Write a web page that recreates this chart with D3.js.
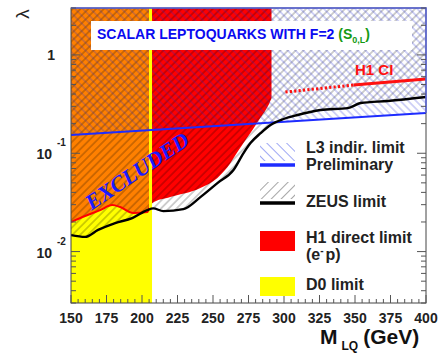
<!DOCTYPE html>
<html><head><meta charset="utf-8">
<script src="https://cdn.jsdelivr.net/npm/d3@7"></script>
<style>body{margin:0;background:#fff}svg{display:block}</style>
</head><body>
<script>
// Exclusion limits on the coupling λ of F=2 scalar leptoquarks (S0,L)
const massTicks = [150, 175, 200, 225, 250, 275, 300, 325, 350, 375, 400];
const lambdaTicks = [0.01, 0.1, 1];
const lambdaTickLabels = ["10|-2", "10|-1", "1"];

// ZEUS limit
const zeusMass   = [150, 159.9, 169.1, 181.1, 193.1, 203.7, 207.9, 215.0, 229.1, 241.1, 253.1, 264.4, 271.5, 276.4, 283.5, 290.5, 299.7, 309.6, 325.8, 344.9, 354.1, 373.2, 400];
const zeusLambda = [0.0147, 0.0141, 0.0166, 0.0195, 0.0219, 0.0264, 0.0275, 0.0258, 0.0270, 0.0358, 0.0497, 0.0675, 0.1005, 0.127, 0.160, 0.194, 0.223, 0.245, 0.275, 0.288, 0.324, 0.340, 0.373];

// H1 direct limit (e- p)
const h1Mass   = [150, 159.9, 170.5, 179.0, 184.6, 193.8, 203.7, 205.8, 207.2, 219.9, 241.1, 253.1, 262.3, 267.2, 272.9, 277.8, 282.8, 287.1, 289.8, 291.2];
const h1Lambda = [0.0200, 0.0230, 0.0264, 0.0297, 0.0284, 0.0247, 0.0252, 0.0292, 0.0311, 0.0358, 0.0443, 0.056, 0.0795, 0.1028, 0.136, 0.172, 0.223, 0.275, 0.324, 0.364];

// L3 indirect limit (preliminary)
const l3Mass   = [150, 400];
const l3Lambda = [0.153, 0.257];

// D0 mass limit
const d0Mass = 206;

// H1 CI limit: dotted part, then solid part
const ciDotMass = [301, 349];
const ciDotLambda = [0.419, 0.494];
const ciMass = [349, 400];
const ciLambda = [0.494, 0.569];

const W = 443, H = 356;
const x = d3.scaleLinear().domain([150, 400]).range([71, 426]);
const y = d3.scaleLog().domain([0.003, 3]).range([303, 8]);
const yTop = y.range()[1], yBot = y.range()[0];
const xL = x.range()[0], xR = x.range()[1];

const svg = d3.select("body").append("svg").attr("width", W).attr("height", H)
  .style("font-family", "'Liberation Sans', Arial, sans-serif");
const defs = svg.append("defs");
defs.append("clipPath").attr("id", "plot").append("rect")
  .attr("x", xL).attr("y", yTop).attr("width", xR - xL).attr("height", yBot - yTop);
defs.append("clipPath").attr("id", "d0clip").append("rect")
  .attr("x", x(150)).attr("y", yTop).attr("width", x(d0Mass) - x(150)).attr("height", yBot - yTop);

function hatch(id, angle, spacing, color, sw) {
  const p = defs.append("pattern").attr("id", id).attr("patternUnits", "userSpaceOnUse")
    .attr("width", spacing).attr("height", spacing).attr("patternTransform", `rotate(${angle})`);
  p.append("line").attr("x1", spacing / 2).attr("y1", 0).attr("x2", spacing / 2).attr("y2", spacing)
    .attr("stroke", color).attr("stroke-width", sw);
}
hatch("zeusHatch", 45, 5.5, "rgba(0,0,0,0.42)", 0.9);
hatch("l3Hatch", -45, 5.5, "rgba(30,40,215,0.45)", 0.9);
hatch("zeusKey", 45, 7, "rgba(0,0,0,0.35)", 1);
hatch("l3Key", -45, 7, "rgba(40,60,230,0.45)", 1);

const zeus = zeusMass.map((m, i) => ({m, l: zeusLambda[i]}));
const h1 = h1Mass.map((m, i) => ({m, l: h1Lambda[i]}));
const l3 = l3Mass.map((m, i) => ({m, l: l3Lambda[i]}));
const ciDot = ciDotMass.map((m, i) => ({m, l: ciDotLambda[i]}));
const ci = ciMass.map((m, i) => ({m, l: ciLambda[i]}));

const areaAbove = d3.area().x(d => x(d.m)).y0(yTop).y1(d => y(d.l)).curve(d3.curveMonotoneX);
const areaAboveStraight = d3.area().x(d => x(d.m)).y0(yTop).y1(d => y(d.l));
const line = d3.line().x(d => x(d.m)).y(d => y(d.l)).curve(d3.curveMonotoneX);
const straight = d3.line().x(d => x(d.m)).y(d => y(d.l));

const g = svg.append("g").attr("clip-path", "url(#plot)");

// D0 excluded band
g.append("rect").attr("x", x(150)).attr("y", yTop).attr("width", x(d0Mass) - x(150))
  .attr("height", yBot - yTop).attr("fill", "#ffff00");
// H1 excluded region (orange where it overlaps D0)
g.append("path").attr("d", areaAbove(h1)).attr("fill", "#ff0000");
g.append("path").attr("d", areaAbove(h1)).attr("fill", "#ff8000").attr("clip-path", "url(#d0clip)");
// ZEUS and L3 hatched regions
g.append("path").attr("d", areaAbove(zeus)).attr("fill", "url(#zeusHatch)");
g.append("path").attr("d", areaAboveStraight(l3)).attr("fill", "url(#l3Hatch)");
// H1 boundary inside D0 band
g.append("path").attr("d", line(h1)).attr("fill", "none").attr("stroke", "#ff0000")
  .attr("stroke-width", 2).attr("clip-path", "url(#d0clip)");
// D0 line
g.append("line").attr("x1", x(d0Mass)).attr("x2", x(d0Mass)).attr("y1", yTop).attr("y2", yBot)
  .attr("stroke", "#ffff00").attr("stroke-width", 3);
// L3 line
g.append("path").attr("d", straight(l3)).attr("fill", "none").attr("stroke", "#1e2cff").attr("stroke-width", 2);
// ZEUS line
g.append("path").attr("d", line(zeus)).attr("fill", "none").attr("stroke", "#000").attr("stroke-width", 2.4);
// H1 CI
g.append("path").attr("d", straight(ciDot)).attr("fill", "none").attr("stroke", "#ff1010")
  .attr("stroke-width", 3).attr("stroke-dasharray", "2.2,2.2");
g.append("path").attr("d", straight(ci)).attr("fill", "none").attr("stroke", "#ff1010").attr("stroke-width", 3);

// Frame
svg.append("rect").attr("x", xL).attr("y", yTop).attr("width", xR - xL).attr("height", yBot - yTop)
  .attr("fill", "none").attr("stroke", "#444").attr("stroke-width", 1);
// L3 region outline along top and right
svg.append("path")
  .attr("d", `M${xL},${yTop}L${xR},${yTop}L${xR},${y(l3Lambda[1])}`)
  .attr("fill", "none").attr("stroke", "#5864dc").attr("stroke-width", 1.5);

// Ticks
const ticks = svg.append("g").attr("stroke", "#555").attr("stroke-width", 1);
d3.range(150, 401, 5).forEach(m => {
  const len = m % 25 === 0 ? 8 : 4;
  ticks.append("line").attr("x1", x(m)).attr("x2", x(m)).attr("y1", yBot).attr("y2", yBot - len);
});
const minorL = [];
[0.001, 0.01, 0.1, 1].forEach(d => { for (let k = 1; k <= 9; k++) { const v = d * k; if (v >= 0.003 && v <= 3) minorL.push(v); } });
minorL.forEach(v => {
  const major = lambdaTicks.some(t => Math.abs(t - v) < 1e-9);
  const len = major ? 9 : 5;
  ticks.append("line").attr("x1", xL).attr("x2", xL + len).attr("y1", y(v)).attr("y2", y(v));
  ticks.append("line").attr("x1", xR).attr("x2", xR - len).attr("y1", y(v)).attr("y2", y(v));
});

// Tick labels
svg.append("g").selectAll("text").data(massTicks).join("text")
  .attr("x", d => x(d)).attr("y", 323).attr("text-anchor", "middle")
  .attr("font-size", 14).attr("font-weight", "bold").attr("fill", "#222").text(d => d);
lambdaTicks.forEach((v, i) => {
  const [base, exp] = lambdaTickLabels[i].split("|");
  const yy = y(v);
  if (exp) {
    svg.append("text").attr("x", 52).attr("y", yy + 6).attr("text-anchor", "end")
      .attr("font-size", 14).attr("font-weight", "bold").attr("fill", "#222").text(base);
    svg.append("text").attr("x", 57).attr("y", yy - 7).attr("font-size", 10)
      .attr("font-weight", "bold").attr("fill", "#222").text(exp);
  } else {
    svg.append("text").attr("x", 55).attr("y", yy + 5).attr("text-anchor", "end")
      .attr("font-size", 14).attr("font-weight", "bold").attr("fill", "#222").text(base);
  }
});

// Axis titles
svg.append("text").attr("transform", "translate(29,14) rotate(-90)").attr("text-anchor", "middle")
  .attr("font-size", 19).attr("fill", "#222").text("λ");
const xt = svg.append("text").attr("x", 320).attr("y", 344).attr("font-weight", "bold").attr("fill", "#111");
xt.append("tspan").attr("font-size", 21).text("M");
xt.append("tspan").attr("font-size", 12).attr("dx", 4).attr("dy", 6).text("LQ");
xt.append("tspan").attr("font-size", 21).attr("dx", 5).attr("dy", -6).text("(GeV)");

// Title box
svg.append("rect").attr("x", 91).attr("y", 21).attr("width", 321).attr("height", 29).attr("fill", "#fff");
const tt = svg.append("text").attr("x", 97).attr("y", 38.5).attr("font-weight", "bold").attr("font-size", 14);
tt.append("tspan").attr("fill", "#0a0af0").text("SCALAR LEPTOQUARKS WITH F=2 ");
tt.append("tspan").attr("fill", "#139a13").text("(S");
tt.append("tspan").attr("fill", "#139a13").attr("font-size", 9).attr("dy", 4).text("0,L");
tt.append("tspan").attr("fill", "#139a13").attr("dy", -4).text(")");

// EXCLUDED label
svg.append("text").attr("transform", "translate(137,171) rotate(-34)").attr("text-anchor", "middle")
  .attr("dominant-baseline", "central")
  .attr("font-family", "'Liberation Serif', 'Times New Roman', serif").attr("font-style", "italic")
  .attr("font-weight", "bold").attr("font-size", 22).attr("fill", "#1a1aff").text("EXCLUDED");

// H1 CI label
svg.append("text").attr("x", 355).attr("y", 75).attr("font-size", 15).attr("font-weight", "bold")
  .attr("fill", "#ff1010").text("H1 CI");

// Legend
const lg = svg.append("g");
lg.append("rect").attr("x", 260).attr("y", 143).attr("width", 35).attr("height", 18).attr("fill", "url(#l3Key)");
lg.append("line").attr("x1", 260).attr("x2", 295).attr("y1", 165).attr("y2", 165).attr("stroke", "#1e2cff").attr("stroke-width", 3.5);
lg.append("rect").attr("x", 260).attr("y", 182).attr("width", 35).attr("height", 17).attr("fill", "url(#zeusKey)");
lg.append("line").attr("x1", 260).attr("x2", 295).attr("y1", 203).attr("y2", 203).attr("stroke", "#000").attr("stroke-width", 3.5);
lg.append("rect").attr("x", 260).attr("y", 231).attr("width", 35).attr("height", 20).attr("fill", "#ff0000");
lg.append("rect").attr("x", 260).attr("y", 277).attr("width", 35).attr("height", 19).attr("fill", "#ffff00");
const legendText = [["L3 indir. limit", 153], ["Preliminary", 170], ["ZEUS limit", 207],
  ["H1 direct limit", 243], ["D0 limit", 290]];
legendText.forEach(([t, yy]) => lg.append("text").attr("x", 306).attr("y", yy).attr("font-size", 16)
  .attr("font-weight", "bold").attr("fill", "#222").text(t));
const ep = lg.append("text").attr("x", 306).attr("y", 260).attr("font-size", 16).attr("font-weight", "bold").attr("fill", "#222");
ep.append("tspan").text("(e");
ep.append("tspan").attr("font-size", 10).attr("dy", -6).text("-");
ep.append("tspan").attr("dy", 6).attr("dx", 2).text("p)");
</script>
</body></html>
